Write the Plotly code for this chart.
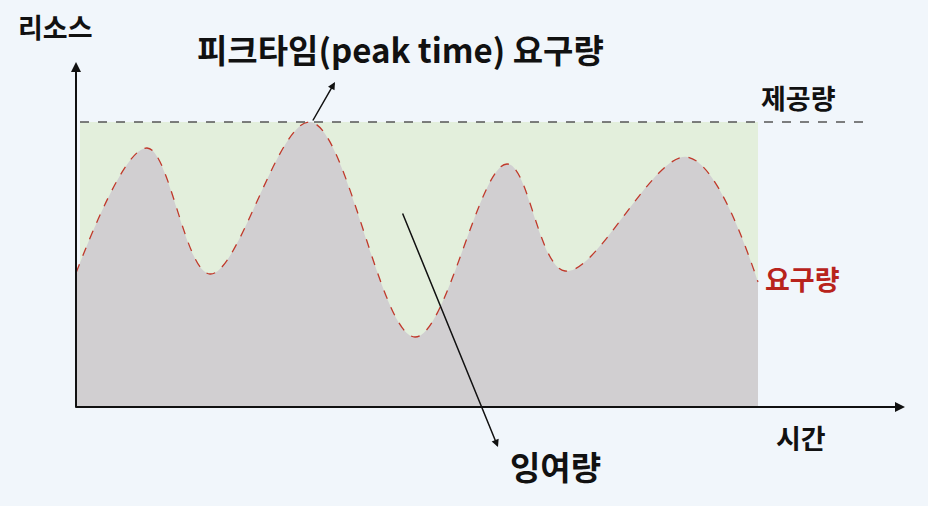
import plotly.graph_objects as go

# Demand curve (time, resource) – origin at the axes corner
time = [0, 71, 134, 234, 339, 431, 489, 611, 682]
demand = [134, 259, 133, 285, 70, 243, 136, 250, 125]

# Provisioned capacity
supply_level = 285
supply_start, supply_end = 4, 682
supply_line_end = 792

FONT = "Noto Sans CJK KR"
BG = "#f1f6fb"

fig = go.Figure()

# provisioned area (green)
fig.add_trace(go.Scatter(
    x=[supply_start, supply_end, supply_end, supply_start, supply_start],
    y=[0, 0, supply_level, supply_level, 0],
    fill="toself", fillcolor="#e3efdc", line=dict(width=0),
    mode="lines", hoverinfo="skip", showlegend=False))

# demand area (gray) + red dashed outline
fig.add_trace(go.Scatter(
    x=time, y=demand, mode="lines", fill="tozeroy", fillcolor="#d1cfd1",
    line=dict(color="#c0392b", width=1.3, dash="dash", shape="spline", smoothing=1.0),
    hoverinfo="skip", showlegend=False))

# supply dashed line
fig.add_trace(go.Scatter(
    x=[supply_start, supply_line_end], y=[supply_level, supply_level],
    mode="lines", line=dict(color="#555555", width=1.3, dash="dash"),
    hoverinfo="skip", showlegend=False))

ann = []
# axes arrows
ann.append(dict(x=0, y=345, ax=0, ay=-2, xref="x", yref="y", axref="x", ayref="y",
                showarrow=True, arrowhead=2, arrowsize=1, arrowwidth=2, arrowcolor="#111", text=""))
ann.append(dict(x=829, y=0, ax=-2, ay=0, xref="x", yref="y", axref="x", ayref="y",
                showarrow=True, arrowhead=2, arrowsize=1, arrowwidth=2, arrowcolor="#111", text=""))
# peak arrow
ann.append(dict(x=259, y=325, ax=236, ay=285, xref="x", yref="y", axref="x", ayref="y",
                showarrow=True, arrowhead=2, arrowsize=1, arrowwidth=1.5, arrowcolor="#111", text=""))
# surplus arrow
ann.append(dict(x=422, y=-40, ax=326, ay=195, xref="x", yref="y", axref="x", ayref="y",
                showarrow=True, arrowhead=2, arrowsize=1, arrowwidth=1.5, arrowcolor="#111", text=""))

def label(x, y, text, size, color="#111111"):
    ann.append(dict(x=x, y=y, xref="x", yref="y", text="<b>%s</b>" % text, showarrow=False,
                    font=dict(family=FONT, size=size, color=color), xanchor="center", yanchor="middle"))

label(-21, 381, "리소스", 27)
label(324, 358, "피크타임(peak time) 요구량", 33)
label(722, 310, "제공량", 27)
label(726, 129, "요구량", 27, "#b8231c")
label(725, -30, "시간", 27)
label(479, -59, "잉여량", 33)

fig.update_layout(
    width=928, height=506, margin=dict(l=0, r=0, t=0, b=0),
    paper_bgcolor=BG, plot_bgcolor=BG,
    xaxis=dict(range=[-76, 852], visible=False, fixedrange=True),
    yaxis=dict(range=[-99, 407], visible=False, fixedrange=True),
    annotations=ann, showlegend=False)

fig.write_html("out.html", config={"displayModeBar": False},
               post_script="document.body.style.margin='0';document.body.style.overflow='hidden';")
